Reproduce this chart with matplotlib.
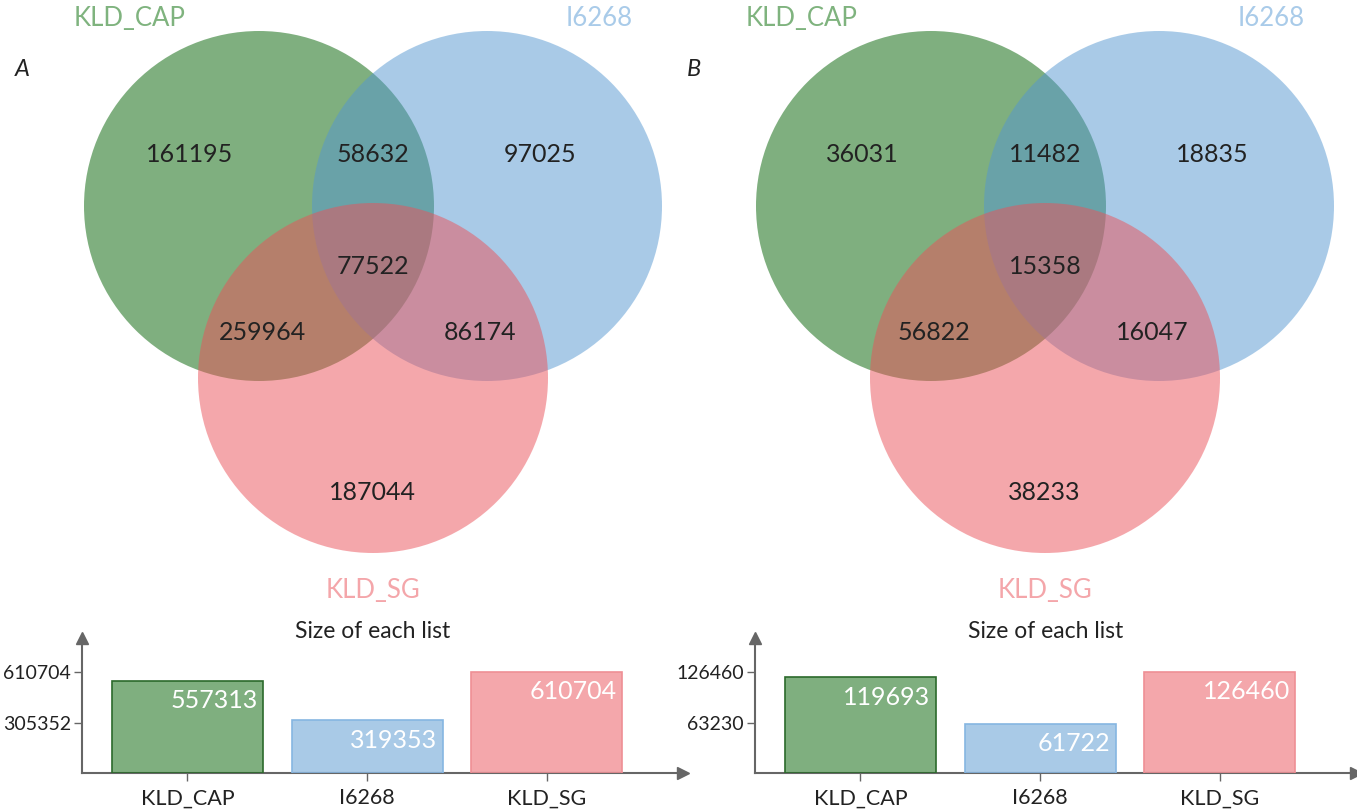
import matplotlib.pyplot as plt
from matplotlib.patches import Circle

plt.rcParams["font.family"] = ["Lato", "DejaVu Sans"]

W, H = 1357, 810

set_names = ["KLD_CAP", "I6268", "KLD_SG"]
set_colors = ["#006100", "#5497d1", "#eb5159"]
edge_colors = ["#2b6a2b", "#86b6e2", "#ef8f95"]
text_colors = ["#7fb37e", "#a9cbe9", "#f4a6aa"]

# region counts: only CAP, CAP&I, only I, all, CAP&SG, I&SG, only SG
regions_a = [161195, 58632, 97025, 77522, 259964, 86174, 187044]
regions_b = [36031, 11482, 18835, 15358, 56822, 16047, 38233]

sizes_a = [557313, 319353, 610704]
sizes_b = [119693, 61722, 126460]
ticks_a = [305352, 610704]
ticks_b = [63230, 126460]


def draw_venn(ax, dx, counts, tag):
    centers = [(259 + dx, 206), (487 + dx, 206), (373 + dx, 378)]
    for (cx, cy), col in zip(centers, set_colors):
        ax.add_patch(Circle((cx, cy), 175, facecolor=col, alpha=0.5, lw=0))
    spots = [(190, 155), (373, 155), (540, 155), (373, 266),
             (262, 333), (480, 333), (372, 492)]
    for (x, y), n in zip(spots, counts):
        ax.text(x + dx, y, str(n), ha="center", va="center",
                fontsize=18, color="#222222")
    label_pos = [(130, 18), (599, 18), (373, 590)]
    for (x, y), name, col in zip(label_pos, set_names, text_colors):
        ax.text(x + dx, y, name, ha="center", va="center", fontsize=18.5, color=col)
    ax.text(22 + dx, 70, tag, ha="center", va="center", fontsize=17,
            style="italic", color="#222222")


def draw_bars(fig, x0, sizes, ticks, title):
    base_y, top_y, right_x = 773, 638, x0 + 601
    ymax = ticks[1] * (base_y - top_y) / 101.0
    ax = fig.add_axes([x0 / W, 1 - base_y / H, (right_x - x0) / W, (base_y - top_y) / H])
    pos = [0, 1, 2]
    ax.bar(pos, sizes, width=0.84, color=set_colors, alpha=0.5, zorder=2)
    ax.bar(pos, sizes, width=0.84, facecolor="none", edgecolor=edge_colors, lw=1.2, zorder=3)
    ax.set_xlim(-(104.5 + 1) / 180.0, (right_x - x0 - 104.5) / 180.0)
    ax.set_ylim(0, ymax)
    for p, v in zip(pos, sizes):
        ax.annotate(str(v), (p + 0.39, v), xytext=(0, -6), textcoords="offset points",
                    ha="right", va="top", fontsize=18, color="white", zorder=4)
    ax.set_xticks(pos)
    ax.set_xticklabels(set_names, fontsize=15.5, color="#222222")
    ax.set_yticks(ticks)
    ax.set_yticklabels([str(t) for t in ticks], fontsize=14, color="#222222")
    ax.tick_params(colors="#666666", length=6, width=1)
    ax.tick_params(axis="x", labelcolor="#222222", pad=5)
    ax.tick_params(axis="y", labelcolor="#222222", pad=2)
    for side in ["top", "right"]:
        ax.spines[side].set_visible(False)
    for side in ["left", "bottom"]:
        ax.spines[side].set_color("#666666")
        ax.spines[side].set_linewidth(1.5)
    ax.plot(1, 0, ">", color="#666666", ms=8, transform=ax.transAxes, clip_on=False)
    ax.plot(0, 1, "^", color="#666666", ms=8, transform=ax.transAxes, clip_on=False)
    ax.patch.set_alpha(0)
    fig.text((x0 + 291) / W, 1 - 632 / H, title, ha="center", va="center",
             fontsize=16.5, color="#222222")


fig = plt.figure(figsize=(W / 100, H / 100), dpi=100)
canvas = fig.add_axes([0, 0, 1, 1])
canvas.set_xlim(0, W)
canvas.set_ylim(H, 0)
canvas.set_aspect("equal")
canvas.axis("off")

draw_venn(canvas, 0, regions_a, "A")
draw_venn(canvas, 672, regions_b, "B")

draw_bars(fig, 82, sizes_a, ticks_a, "Size of each list")
draw_bars(fig, 755, sizes_b, ticks_b, "Size of each list")

fig.savefig("out.png", dpi=100)
